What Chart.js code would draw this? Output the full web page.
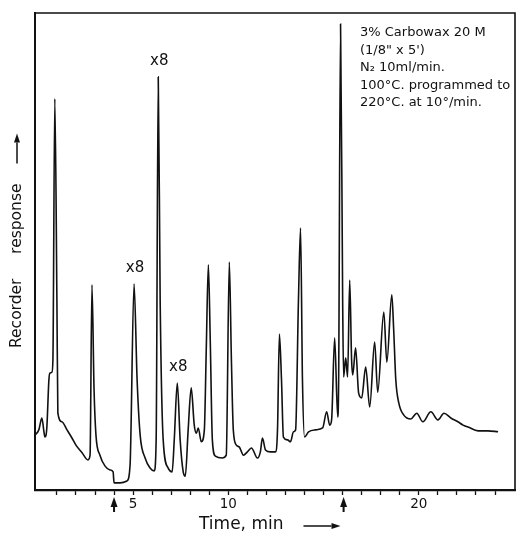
<!DOCTYPE html>
<html>
<head>
<meta charset="utf-8">
<script src="https://cdn.jsdelivr.net/npm/chart.js@4.4.1/dist/chart.umd.min.js"></script>
<style>
  body { margin: 0; background: #fff; }
  canvas { display: block; }
</style>
</head>
<body>
<canvas id="cromatograma" width="516" height="535"></canvas>
<script>
const timeMin = [
  -0.16, 0.05, 0.21, 0.32, 0.37, 0.47, 0.58, 0.63, 0.74, 0.79,
  0.89, 1.00, 1.05, 1.26, 1.53, 1.79, 2.00, 2.32, 2.63, 2.74,
  2.84, 2.95, 3.05, 3.26, 3.53, 3.79, 3.95, 4.00, 4.32, 4.68,
  4.84, 5.05, 5.21, 5.37, 5.63, 5.89, 6.11, 6.21, 6.32, 6.42,
  6.58, 6.84, 7.05, 7.16, 7.32, 7.47, 7.63, 7.74, 7.89, 8.05,
  8.21, 8.32, 8.42, 8.58, 8.74, 8.84, 8.95, 9.05, 9.16, 9.32,
  9.68, 9.89, 10.05, 10.16, 10.26, 10.42, 10.58, 10.79, 11.00, 11.21,
  11.53, 11.68, 11.79, 11.95, 12.21, 12.47, 12.58, 12.68, 12.79, 12.89,
  13.11, 13.26, 13.42, 13.53, 13.68, 13.79, 13.89, 14.00, 14.21, 14.58,
  14.95, 15.16, 15.32, 15.42, 15.58, 15.74, 15.79, 15.89, 16.00, 16.05,
  16.16, 16.26, 16.37, 16.47, 16.53, 16.68, 16.84, 17.00, 17.21, 17.42,
  17.68, 17.84, 18.16, 18.32, 18.58, 18.68, 18.79, 18.95, 19.21, 19.58,
  19.89, 20.21, 20.63, 21.00, 21.32, 21.68, 22.05, 22.32, 22.58, 23.11,
  23.63, 24.16
];
const response = [
  11.5, 12.6, 15.1, 12.2, 11.1, 13.0, 23.1, 24.5, 24.7, 27.3,
  82.0, 39.8, 16.1, 14.3, 12.6, 10.9, 9.4, 7.8, 6.3, 7.3,
  43.0, 21.0, 11.5, 7.3, 5.0, 4.2, 3.8, 1.5, 1.5, 1.9,
  5.2, 43.2, 23.1, 11.5, 6.7, 4.6, 4.0, 10.5, 86.6, 39.8,
  10.5, 4.6, 3.8, 10.5, 22.4, 10.5, 3.8, 2.9, 12.6, 21.4,
  13.6, 11.9, 13.0, 10.1, 12.6, 29.4, 47.2, 31.4, 10.5, 7.1,
  6.7, 7.3, 47.8, 27.3, 12.6, 9.4, 9.0, 7.3, 8.0, 8.8,
  6.7, 8.0, 10.9, 8.4, 8.0, 8.0, 12.6, 32.7, 23.1, 11.1,
  10.5, 10.1, 12.2, 12.6, 39.8, 54.9, 23.1, 11.1, 12.2, 12.6,
  13.0, 16.4, 13.6, 14.7, 31.9, 15.3, 23.1, 97.7, 39.8, 23.7,
  27.7, 23.7, 44.0, 27.3, 24.1, 29.8, 20.3, 19.3, 25.8, 17.4,
  31.0, 20.5, 37.3, 26.8, 40.9, 33.5, 23.1, 18.2, 15.7, 14.9,
  16.1, 14.3, 16.4, 14.7, 16.1, 15.1, 14.3, 13.6, 13.2, 12.4,
  12.4, 12.2
];

// Marcas del eje de tiempo
const tickMinutes = [1, 2, 3, 4, 5, 6, 7, 8, 9, 10, 11, 12, 13, 14, 15, 16, 17, 18, 19, 20, 21, 22, 23, 24];
const labelledMinutes = [5, 10, 20];
const injectionMarks = [4.0, 16.05];

// Picos atenuados (x8)
const attenuatedPeaks = [5.05, 6.32, 7.32];
const attenuationText = 'x8';

const conditions = [
  '3% Carbowax 20 M',
  '(1/8" x 5\')',
  'N\u2082 10ml/min.',
  '100\u00b0C. programmed to',
  '220\u00b0C. at 10\u00b0/min.'
];

const xTitle = 'Time, min';
const yTitle = 'Recorder     response';

const ink = '#111';
const fontFamily = '"DejaVu Sans", "Noto Sans", sans-serif';

// flecha con punta rellena, de (x1,y1) a (x2,y2)
function flecha(ctx, x1, y1, x2, y2) {
  const ang = Math.atan2(y2 - y1, x2 - x1);
  const largo = 9, ancho = 3;
  const bx = x2 - largo * Math.cos(ang), by = y2 - largo * Math.sin(ang);
  ctx.lineWidth = 1.5;
  ctx.beginPath();
  ctx.moveTo(x1, y1);
  ctx.lineTo(bx, by);
  ctx.stroke();
  ctx.beginPath();
  ctx.moveTo(x2, y2);
  ctx.lineTo(bx + ancho * Math.sin(ang), by - ancho * Math.cos(ang));
  ctx.lineTo(bx - ancho * Math.sin(ang), by + ancho * Math.cos(ang));
  ctx.closePath();
  ctx.fill();
}

// Marco, flechas y textos extra
const decoraciones = {
  id: 'decoraciones',
  afterDraw(chart) {
    const { ctx, chartArea } = chart;
    const xScale = chart.scales.x;
    const yScale = chart.scales.y;
    ctx.save();

    // lineas superior y derecha del marco
    ctx.strokeStyle = ink;
    ctx.fillStyle = ink;
    ctx.lineWidth = 1.6;
    ctx.beginPath();
    ctx.moveTo(chartArea.left, chartArea.top);
    ctx.lineTo(chartArea.right - 1, chartArea.top);
    ctx.lineTo(chartArea.right - 1, chartArea.bottom);
    ctx.stroke();

    // flechas de inyeccion bajo el eje
    injectionMarks.forEach(t => {
      const px = xScale.getPixelForValue(t);
      const top = chartArea.bottom + 7;
      ctx.beginPath();
      ctx.moveTo(px, top);
      ctx.lineTo(px - 3.5, top + 10);
      ctx.lineTo(px + 3.5, top + 10);
      ctx.closePath();
      ctx.fill();
      ctx.fillRect(px - 1, top + 9, 2, 6);
    });

    // titulos de los ejes con sus flechas
    ctx.font = '17px ' + fontFamily;
    ctx.textAlign = 'left';
    ctx.textBaseline = 'middle';
    const xt = chartArea.left + 164;
    const yt = chartArea.bottom + 35;
    ctx.fillText(xTitle, xt, yt);
    const wx = ctx.measureText(xTitle).width;
    flecha(ctx, xt + wx + 20, yt + 1, xt + wx + 57, yt + 1);

    ctx.save();
    ctx.font = '15.5px ' + fontFamily;
    ctx.translate(17, chartArea.top + 335);
    ctx.rotate(-Math.PI / 2);
    ctx.fillText(yTitle, 0, 0);
    const wy = ctx.measureText(yTitle).width;
    flecha(ctx, wy + 20, 0, wy + 50, 0);
    ctx.restore();

    // etiquetas x8 sobre los picos
    ctx.font = '15px ' + fontFamily;
    ctx.textAlign = 'center';
    attenuatedPeaks.forEach(t => {
      let maxV = 0;
      timeMin.forEach((tt, i) => {
        if (Math.abs(tt - t) < 0.06 && response[i] > maxV) maxV = response[i];
      });
      const px = xScale.getPixelForValue(t);
      const py = yScale.getPixelForValue(maxV);
      ctx.fillText(attenuationText, px + 1, py - 16);
    });

    // condiciones de la columna
    ctx.font = '13px ' + fontFamily;
    ctx.textAlign = 'left';
    conditions.forEach((line, i) => {
      ctx.fillText(line, chartArea.right - 156, chartArea.top + 20 + i * 17.5);
    });
    ctx.restore();
  }
};

const ctx = document.getElementById('cromatograma').getContext('2d');
new Chart(ctx, {
  type: 'line',
  data: {
    datasets: [{
      data: timeMin.map((t, i) => ({ x: t, y: response[i] })),
      borderColor: ink,
      borderWidth: 1.6,
      pointRadius: 0,
      fill: false,
      cubicInterpolationMode: 'monotone'
    }]
  },
  options: {
    responsive: false,
    animation: false,
    layout: { padding: { top: 13, right: 0, left: 0, bottom: 0 } },
    plugins: {
      legend: { display: false },
      tooltip: { enabled: false }
    },
    scales: {
      x: {
        type: 'linear',
        min: -0.15,
        max: 25.1,
        afterFit: scale => { scale.height = 45; },
        afterBuildTicks: scale => { scale.ticks = tickMinutes.map(v => ({ value: v })); },
        ticks: {
          autoSkip: false,
          maxRotation: 0,
          padding: 1,
          color: ink,
          font: { family: fontFamily, size: 13.5 },
          callback: v => labelledMinutes.includes(v) ? String(v) : ''
        },
        grid: { drawOnChartArea: false, tickLength: 5, color: ink, tickWidth: 1.3 },
        border: { color: ink, width: 2.2 },
        title: { display: false }
      },
      y: {
        min: 0,
        max: 100,
        afterFit: scale => { scale.width = 35; },
        ticks: { display: false },
        grid: { drawOnChartArea: false, drawTicks: false },
        border: { color: ink, width: 2 },
        title: { display: false }
      }
    }
  },
  plugins: [decoraciones]
});
</script>
</body>
</html>
